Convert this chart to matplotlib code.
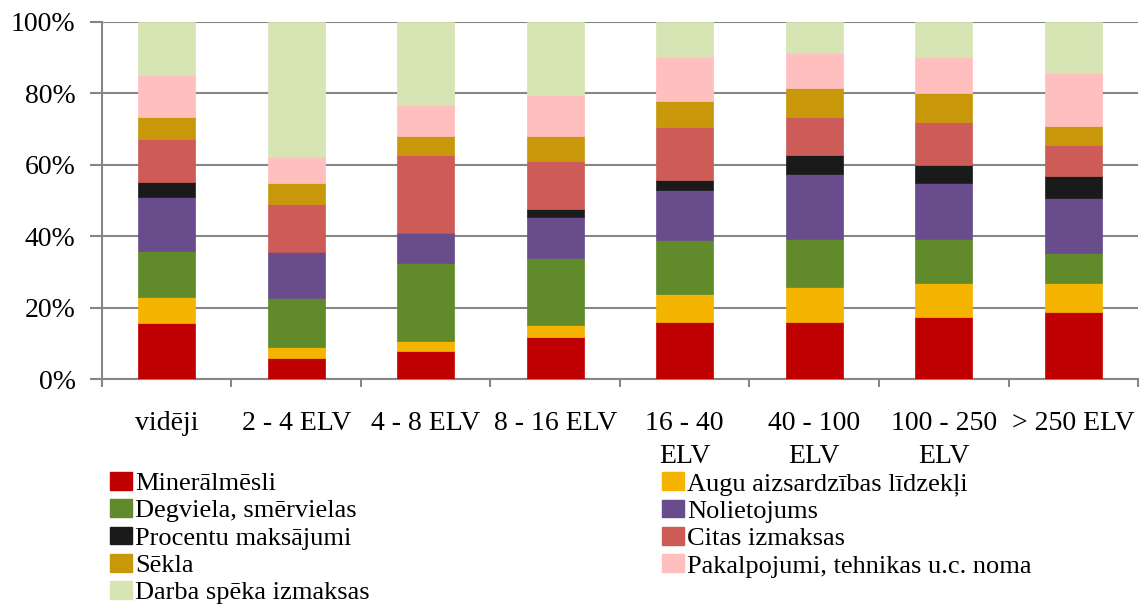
import numpy as np
import matplotlib
matplotlib.use("Agg")
import matplotlib.pyplot as plt
from matplotlib.patches import Patch

# kategorijas (saimniecību lielums)
categories = ["vidēji", "2 - 4 ELV", "4 - 8 ELV", "8 - 16 ELV",
              "16 - 40\nELV", "40 - 100\nELV", "100 - 250\nELV", "> 250 ELV"]

# izmaksu struktūra, % (nolasīts no attēla)
mineralmesli = [15.7, 5.9, 8.0, 11.9, 16.1, 16.1, 17.4, 18.9]
augu_aizsardziba = [7.4, 3.2, 2.7, 3.2, 7.7, 9.8, 9.5, 8.0]
degviela = [12.9, 13.6, 21.8, 18.8, 15.2, 13.5, 12.5, 8.5]
nolietojums = [15.1, 13.0, 8.5, 11.6, 14.0, 18.2, 15.5, 15.3]
procenti = [4.1, 0.0, 0.0, 2.2, 2.8, 5.3, 5.1, 6.3]
citas = [12.0, 13.3, 21.8, 13.5, 14.7, 10.6, 12.0, 8.7]
sekla = [6.3, 5.9, 5.3, 6.9, 7.5, 8.0, 8.2, 5.3]
pakalpojumi = [11.6, 7.4, 8.8, 11.6, 12.3, 9.9, 10.1, 14.6]
darba_speks = [14.9, 37.7, 23.1, 20.3, 9.7, 8.6, 9.7, 14.4]

series = [
    ("Minerālmēsli", mineralmesli, "#C00000"),
    ("Augu aizsardzības līdzekļi", augu_aizsardziba, "#F5B400"),
    ("Degviela, smērvielas", degviela, "#618A2A"),
    ("Nolietojums", nolietojums, "#684C8C"),
    ("Procentu maksājumi", procenti, "#1A1A1A"),
    ("Citas izmaksas", citas, "#CD5C59"),
    ("Sēkla", sekla, "#C8980A"),
    ("Pakalpojumi, tehnikas u.c. noma", pakalpojumi, "#FFBFBF"),
    ("Darba spēka izmaksas", darba_speks, "#D7E4B4"),
]

plt.rcParams['font.family'] = ['Liberation Serif', 'DejaVu Serif']
grey = "#868686"

fig = plt.figure(figsize=(11.42, 6.06), dpi=100)
ax = fig.add_axes([0.0893, 0.3738, 0.9072, 0.5899])

x = np.arange(len(categories))
bottom = np.zeros(len(categories))
handles = {}
for name, vals, col in series:
    vals = np.array(vals)
    ax.bar(x, vals, 0.44, bottom=bottom, color=col, edgecolor=col,
           linewidth=0.5, zorder=3)
    bottom += vals
    handles[name] = Patch(facecolor=col, edgecolor=col)

ax.set_xlim(-0.5, len(categories) - 0.5)
ax.set_ylim(0, 100)
ax.set_yticks(np.arange(0, 101, 20))
ax.set_yticklabels([f"{v}%" for v in range(0, 101, 20)], fontsize=20)
ax.yaxis.grid(True, color=grey, linewidth=1.5, zorder=0)
ax.tick_params(axis='y', length=9, width=1.5, color=grey, pad=10)

# kategoriju nosaukumi starp atzīmēm
ax.set_xticks(np.arange(len(categories) + 1) - 0.5)
ax.set_xticklabels([])
ax.tick_params(axis='x', length=6, width=1.5, color=grey)
ax.set_xticks(x, minor=True)
ax.set_xticklabels(categories, minor=True, fontsize=20, linespacing=1.4,
                   va='top')
ax.tick_params(axis='x', which='minor', length=0, pad=23)

for s in ['top', 'right']:
    ax.spines[s].set_visible(False)
for s in ['left', 'bottom']:
    ax.spines[s].set_color(grey)
    ax.spines[s].set_linewidth(1.5)

col1 = ["Minerālmēsli", "Degviela, smērvielas", "Procentu maksājumi",
        "Sēkla", "Darba spēka izmaksas"]
col2 = ["Augu aizsardzības līdzekļi", "Nolietojums", "Citas izmaksas",
        "Pakalpojumi, tehnikas u.c. noma"]
for names, xpos in [(col1, 110 / 1142), (col2, 662 / 1142)]:
    fig.legend([handles[n] for n in names], names, loc='upper left',
               bbox_to_anchor=(xpos, 0.2211), frameon=False, fontsize=19,
               borderpad=0, borderaxespad=0, handlelength=0.83,
               handleheight=0.65, handletextpad=0.12, labelspacing=0.16)

fig.savefig("out.png", dpi=100)
